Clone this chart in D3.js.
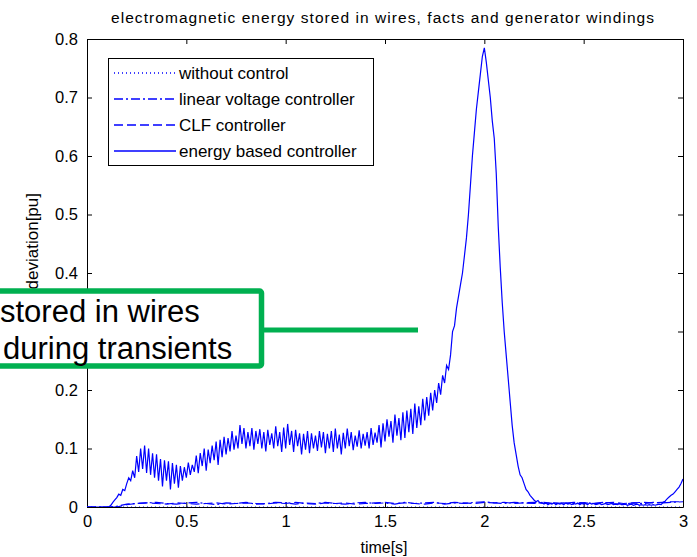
<!DOCTYPE html>
<html>
<head>
<meta charset="utf-8">
<script src="https://cdn.jsdelivr.net/npm/d3@7"></script>
<style>
  body { margin: 0; background: #fff; }
  svg { display: block; font-family: "Liberation Sans", Arial, sans-serif; }
</style>
</head>
<body>
<svg id="chart" width="697" height="557"></svg>
<script>
// ---------- data ----------
const titleText = "electromagnetic energy stored in wires, facts and generator windings";
const xLabel = "time[s]";
const yLabel = "energy deviation[pu]";
const xTicks = [0, 0.5, 1, 1.5, 2, 2.5, 3];
const yTicks = [0, 0.1, 0.2, 0.3, 0.4, 0.5, 0.6, 0.7, 0.8];
const seriesNames = ["without control", "linear voltage controller", "CLF controller", "energy based controller"];
const annotationLines = ["stored in wires", "during transients"];

// energy based controller, sampled every 0.01 s from 0 to 3 s
const energyStep = 0.01;
const energyBased = [
  0,0,0,0,0,0,0,0,0,0,                                   // 0.00-0.09
  0,0,0.003,0.008,0.012,0.016,0.022,0.02,0.03,0.028,     // 0.10-0.19
  0.04,0.05,0.045,0.062,0.05,0.087,0.06,0.1,0.065,0.105, // 0.20-0.29
  0.058,0.1,0.055,0.092,0.05,0.09,0.045,0.082,0.035,0.08, // 0.30-0.39
  0.045,0.078,0.03,0.075,0.04,0.072,0.033,0.07,0.045,0.068, // 0.40-0.49
  0.05,0.076,0.055,0.072,0.06,0.088,0.058,0.092,0.07,0.1,   // 0.50-0.59
  0.062,0.098,0.075,0.105,0.08,0.112,0.072,0.115,0.085,0.12, // 0.60-0.69
  0.09,0.118,0.095,0.13,0.098,0.122,0.1,0.14,0.108,0.135,  // 0.70-0.79
  0.1,0.128,0.104,0.135,0.098,0.13,0.108,0.133,0.1,0.128,  // 0.80-0.89
  0.095,0.132,0.106,0.126,0.1,0.138,0.104,0.128,0.094,0.136, // 0.90-0.99
  0.1,0.142,0.106,0.13,0.094,0.132,0.104,0.126,0.09,0.125,   // 1.00-1.09
  0.098,0.13,0.092,0.126,0.1,0.122,0.096,0.13,0.102,0.128,   // 1.10-1.19
  0.092,0.125,0.1,0.13,0.094,0.134,0.1,0.124,0.09,0.127,     // 1.20-1.29
  0.1,0.134,0.104,0.128,0.097,0.122,0.103,0.131,0.1,0.125,   // 1.30-1.39
  0.105,0.128,0.1,0.135,0.106,0.127,0.11,0.14,0.102,0.143,   // 1.40-1.49
  0.112,0.15,0.12,0.147,0.11,0.158,0.122,0.152,0.114,0.162,  // 1.50-1.59
  0.118,0.165,0.128,0.168,0.125,0.177,0.135,0.172,0.14,0.185,  // 1.60-1.69
  0.148,0.188,0.156,0.195,0.165,0.2,0.178,0.212,0.192,0.225,   // 1.70-1.79
  0.212,0.242,0.235,0.26,0.3,0.31,0.34,0.36,0.38,0.4,     // 1.80-1.89
  0.43,0.46,0.5,0.55,0.6,0.64,0.68,0.71,0.74,0.77,       // 1.90-1.99
  0.785,0.76,0.73,0.7,0.66,0.63,0.57,0.48,0.41,0.35,     // 2.00-2.09
  0.3,0.26,0.22,0.18,0.14,0.11,0.09,0.07,0.055,0.05,     // 2.10-2.19
  0.04,0.03,0.026,0.02,0.016,0.012,0.009,0.011,0.007,0.008, // 2.20-2.29
  0.005,0.007,0.004,0.006,0.005,0.007,0.004,0.006,0.005,0.006, // 2.30-2.39
  0.004,0.007,0.005,0.006,0.004,0.006,0.005,0.007,0.004,0.006, // 2.40-2.49
  0.005,0.006,0.004,0.007,0.005,0.006,0.004,0.005,0.006,0.004, // 2.50-2.59
  0.005,0.006,0.004,0.005,0.006,0.004,0.005,0.004,0.006,0.004, // 2.60-2.69
  0.004,0.005,0.003,0.004,0.005,0.003,0.004,0.005,0.003,0.004, // 2.70-2.79
  0.003,0.004,0.003,0.004,0.003,0.004,0.003,0.004,0.005,0.004, // 2.80-2.89
  0.008,0.01,0.014,0.017,0.02,0.022,0.026,0.03,0.034,0.04, // 2.90-2.99
  0.048                                                  // 3.00
];

// other controllers, sampled every 0.05 s from 0 to 3 s
const smallStep = 0.05;
const withoutControl = [
  0,0,0,0,0,0,0,0,0,0,0,0,0,0,0,0,0,0,0,0,0,0,0,0,0,0,0,0,0,0,
  0,0,0,0,0,0,0,0,0,0,0,0,0,0,0,0,0,0,0,0,0,0,0,0,0,0,0,0,0,0,0
];
const linearVoltage = [
  0,0,0,0.001,0.005,0.006,0.007,0.008,0.006,0.005,0.007,0.008,0.006,0.004,0.007,0.006,
  0.008,0.005,0.006,0.008,0.007,0.005,0.007,0.006,0.008,0.006,0.005,0.007,0.008,0.006,
  0.007,0.005,0.008,0.006,0.007,0.008,0.005,0.007,0.006,0.008,0.009,0.007,0.006,0.008,
  0.007,0.006,0.008,0.006,0.007,0.005,0.007,0.006,0.008,0.006,0.005,0.007,0.006,0.008,
  0.007,0.008,0.009
];
const clfController = [
  0,0,0,0,0.004,0.006,0.007,0.006,0.005,0.007,0.006,0.005,0.006,0.007,0.005,0.006,
  0.007,0.006,0.005,0.007,0.006,0.008,0.006,0.005,0.007,0.006,0.007,0.005,0.006,0.007,
  0.008,0.006,0.007,0.006,0.005,0.007,0.006,0.008,0.007,0.006,0.008,0.007,0.008,0.006,
  0.007,0.008,0.006,0.007,0.006,0.008,0.007,0.006,0.007,0.008,0.006,0.007,0.008,0.007,
  0.008,0.009,0.009
];

// ---------- drawing ----------
const svg = d3.select("#chart");
const m = { left: 87, right: 683, top: 39, bottom: 507 };
const x = d3.scaleLinear().domain([0, 3]).range([m.left, m.right]);
const y = d3.scaleLinear().domain([0, 0.8]).range([m.bottom, m.top]);

const clipId = "plotclip";
svg.append("defs").append("clipPath").attr("id", clipId)
  .append("rect").attr("x", m.left).attr("y", m.top)
  .attr("width", m.right - m.left).attr("height", m.bottom - m.top);

// axes (MATLAB style, inward ticks on all four sides)
const tickLen = 5;
const axisStyle = g => {
  g.attr("font-size", null).attr("font-family", null);
  g.selectAll("path.domain").attr("stroke", "#000");
  g.selectAll(".tick line").attr("stroke", "#000");
  g.selectAll(".tick text").attr("fill", "#000").attr("font-size", 16.5);
};
svg.append("g").attr("transform", `translate(0,${m.bottom})`)
  .call(d3.axisBottom(x).tickValues(xTicks).tickFormat(d3.format("~g"))
    .tickSizeInner(-tickLen).tickSizeOuter(0).tickPadding(8))
  .call(axisStyle);
svg.append("g").attr("transform", `translate(0,${m.top})`)
  .call(d3.axisTop(x).tickValues(xTicks).tickFormat("")
    .tickSizeInner(-tickLen).tickSizeOuter(0))
  .call(axisStyle);
svg.append("g").attr("transform", `translate(${m.left},0)`)
  .call(d3.axisLeft(y).tickValues(yTicks).tickFormat(d3.format("~g"))
    .tickSizeInner(-tickLen).tickSizeOuter(0).tickPadding(9))
  .call(axisStyle);
svg.append("g").attr("transform", `translate(${m.right},0)`)
  .call(d3.axisRight(y).tickValues(yTicks).tickFormat("")
    .tickSizeInner(-tickLen).tickSizeOuter(0))
  .call(axisStyle);

// title and labels
svg.append("text").attr("x", 111).attr("y", 23)
  .attr("font-size", 15.5).attr("textLength", 543).attr("lengthAdjust", "spacing")
  .text(titleText);
svg.append("text").attr("x", 384).attr("y", 553)
  .attr("text-anchor", "middle").attr("font-size", 16).text(xLabel);
svg.append("text").attr("transform", "translate(38,193) rotate(-90)")
  .attr("text-anchor", "end").attr("font-size", 17).text(yLabel);

// lines
const blue = "#0000ff";
const lineGen = step => d3.line().x((d, i) => x(i * step)).y(d => y(d));
const series = [
  { name: seriesNames[0], data: withoutControl, step: smallStep, dash: "1,3" },
  { name: seriesNames[1], data: linearVoltage, step: smallStep, dash: "9,3,2,3" },
  { name: seriesNames[2], data: clfController, step: smallStep, dash: "9,4" },
  { name: seriesNames[3], data: energyBased, step: energyStep, dash: null }
];
const plot = svg.append("g").attr("clip-path", `url(#${clipId})`);
series.forEach(s => {
  plot.append("path").datum(s.data)
    .attr("d", lineGen(s.step))
    .attr("fill", "none").attr("stroke", blue).attr("stroke-width", 1.2)
    .attr("stroke-dasharray", s.dash);
});

// legend
const lg = svg.append("g").attr("transform", "translate(108,58)");
lg.append("rect").attr("x", 0.5).attr("y", 0.5).attr("width", 265).attr("height", 107)
  .attr("fill", "#fff").attr("stroke", "#000").attr("stroke-width", 1);
series.forEach((s, i) => {
  const yy = 15 + i * 26;
  lg.append("line").attr("x1", 6).attr("x2", 68).attr("y1", yy).attr("y2", yy)
    .attr("stroke", blue).attr("stroke-width", 1.3).attr("stroke-dasharray", s.dash);
  lg.append("text").attr("x", 71).attr("y", yy + 6).attr("font-size", 17).text(s.name);
});

// annotation callout
const ann = svg.append("g");
ann.append("line").attr("x1", 262).attr("x2", 418).attr("y1", 330).attr("y2", 330)
  .attr("stroke", "#00b050").attr("stroke-width", 5);
ann.append("rect").attr("x", -10).attr("y", 291).attr("width", 271.5).attr("height", 75)
  .attr("fill", "#fff").attr("stroke", "#00b050").attr("stroke-width", 5.5).attr("rx", 2);
ann.append("text").attr("x", 0).attr("y", 322).attr("font-size", 31)
  .attr("font-family", "Arial, 'Liberation Sans', sans-serif").text(annotationLines[0]);
ann.append("text").attr("x", 3).attr("y", 359).attr("font-size", 31)
  .attr("font-family", "Arial, 'Liberation Sans', sans-serif").text(annotationLines[1]);
</script>
</body>
</html>
